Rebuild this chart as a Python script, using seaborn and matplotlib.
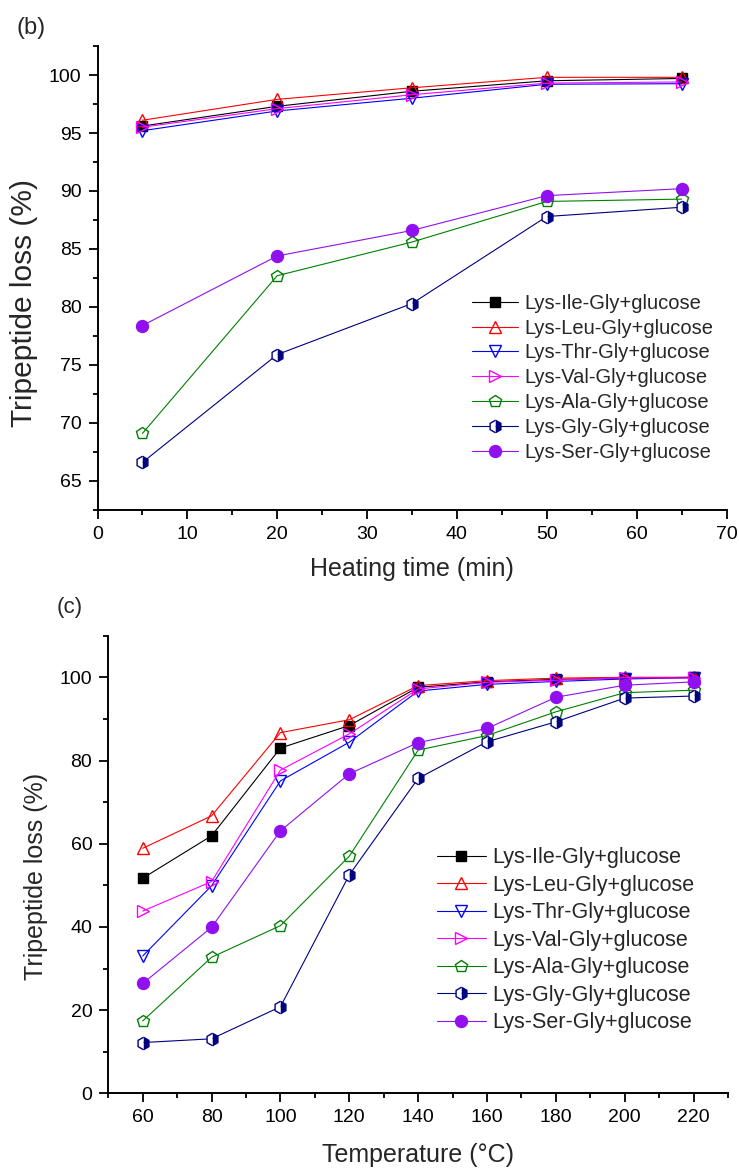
import numpy as np
import pandas as pd
import matplotlib
matplotlib.use("Agg")
import matplotlib.pyplot as plt
from matplotlib.ticker import MultipleLocator
import seaborn as sns

# ---- data -------------------------------------------------------------
series = [
    "Lys-Ile-Gly+glucose",
    "Lys-Leu-Gly+glucose",
    "Lys-Thr-Gly+glucose",
    "Lys-Val-Gly+glucose",
    "Lys-Ala-Gly+glucose",
    "Lys-Gly-Gly+glucose",
    "Lys-Ser-Gly+glucose",
]

# (b) loss vs heating time
time_min = [5, 20, 35, 50, 65]
b_ile = [95.6, 97.3, 98.6, 99.5, 99.7]
b_leu = [96.1, 97.9, 98.9, 99.8, 99.8]
b_thr = [95.2, 96.9, 98.0, 99.2, 99.25]
b_val = [95.5, 97.1, 98.3, 99.3, 99.4]
b_ala = [69.1, 82.7, 85.6, 89.1, 89.3]
b_gly = [66.6, 75.9, 80.3, 87.8, 88.6]
b_ser = [78.4, 84.4, 86.6, 89.6, 90.2]

# (c) loss vs temperature
temp_c = [60, 80, 100, 120, 140, 160, 180, 200, 220]
c_ile = [51.7, 61.9, 83.0, 88.4, 97.6, 98.9, 99.5, 99.8, 100.0]
c_leu = [58.9, 66.7, 86.7, 89.8, 98.0, 99.2, 99.8, 100.0, 100.0]
c_thr = [33.0, 49.9, 75.1, 84.4, 96.7, 98.3, 99.0, 99.6, 99.9]
c_val = [43.8, 50.9, 77.7, 86.4, 97.2, 98.8, 99.3, 99.9, 99.8]
c_ala = [17.4, 32.7, 40.3, 57.0, 82.5, 86.0, 91.7, 96.3, 96.9]
c_gly = [12.2, 13.1, 20.8, 52.5, 75.7, 84.5, 89.3, 95.0, 95.5]
c_ser = [26.4, 39.9, 63.1, 76.8, 84.3, 87.7, 95.2, 98.1, 98.9]

df_b = pd.DataFrame({
    "time": np.tile(time_min, len(series)),
    "loss": np.concatenate([b_ile, b_leu, b_thr, b_val, b_ala, b_gly, b_ser]),
    "sample": np.repeat(series, len(time_min)),
})
df_c = pd.DataFrame({
    "temp": np.tile(temp_c, len(series)),
    "loss": np.concatenate([c_ile, c_leu, c_thr, c_val, c_ala, c_gly, c_ser]),
    "sample": np.repeat(series, len(temp_c)),
})

# ---- styles -----------------------------------------------------------
sns.set_theme(style="ticks")
plt.rcParams["font.family"] = ["Liberation Sans", "DejaVu Sans"]
plt.rcParams["axes.linewidth"] = 1.4

styles = {
    "Lys-Ile-Gly+glucose": dict(color="#000000", marker="s", ms=7.2,
                                mfc="#000000", mec="#000000"),
    "Lys-Leu-Gly+glucose": dict(color="#FF0000", marker="^", ms=9,
                                mfc="none", mec="#FF0000"),
    "Lys-Thr-Gly+glucose": dict(color="#0000FF", marker="v", ms=9,
                                mfc="none", mec="#0000FF"),
    "Lys-Val-Gly+glucose": dict(color="#FF00FF", marker=">", ms=9,
                                mfc="none", mec="#FF00FF"),
    "Lys-Ala-Gly+glucose": dict(color="#008000", marker="p", ms=9,
                                mfc="none", mec="#008000"),
    "Lys-Gly-Gly+glucose": dict(color="#000080", marker="h", ms=9,
                                mfc="#000080", mec="#000080",
                                fillstyle="right", markerfacecoloralt="white"),
    "Lys-Ser-Gly+glucose": dict(color="#9010F0", marker="o", ms=8.6,
                                mfc="#9010F0", mec="#9010F0"),
}

W, H = 739, 1169
fig = plt.figure(figsize=(W / 100, H / 100), dpi=100)
fig.patch.set_facecolor("white")

ax_b = fig.add_axes([97.5 / W, 1 - 510 / H, 629 / W, 464 / H])
ax_c = fig.add_axes([108.3 / W, 1 - 1093.3 / H, 619.7 / W, 457.6 / H])


def draw(ax, df, xcol):
    for name in series:
        st = dict(styles[name])
        color = st.pop("color")
        sns.lineplot(data=df[df["sample"] == name], x=xcol, y="loss", ax=ax,
                     color=color, lw=0.8, label=name, mew=1.0, **st)


def style_axes(ax):
    ax.set_facecolor("white")
    for side in ("top", "right"):
        ax.spines[side].set_visible(False)
    for side in ("left", "bottom"):
        ax.spines[side].set_linewidth(1.4)
        ax.spines[side].set_color("black")
    ax.tick_params(which="major", direction="out", length=6.5, width=1.3,
                   labelsize=14, colors="black", pad=5)
    ax.tick_params(which="minor", direction="out", length=3.5, width=1.3,
                   colors="black")
    ax.grid(False)


# (b)
draw(ax_b, df_b, "time")
ax_b.set_xlim(0, 70)
ax_b.set_ylim(62.5, 102.5)
ax_b.xaxis.set_major_locator(MultipleLocator(10))
ax_b.xaxis.set_minor_locator(MultipleLocator(5))
ax_b.yaxis.set_major_locator(MultipleLocator(5))
ax_b.yaxis.set_minor_locator(MultipleLocator(2.5))
style_axes(ax_b)
ax_b.set_xlabel("Heating time (min)", fontsize=18, labelpad=10)
ax_b.set_ylabel("Tripeptide loss (%)", fontsize=21.5)
ax_b.yaxis.set_label_coords(-0.094, 0.446)
ax_b.legend(loc="upper left", bbox_to_anchor=(472 / W, 1 - 293.8 / H),
            bbox_transform=fig.transFigure, frameon=False, fontsize=14.5,
            borderpad=0, borderaxespad=0, labelspacing=0.29,
            handlelength=2.3, handletextpad=0.3)

# (c)
draw(ax_c, df_c, "temp")
ax_c.set_xlim(50, 230)
ax_c.set_ylim(0, 110)
ax_c.xaxis.set_major_locator(MultipleLocator(20))
ax_c.xaxis.set_minor_locator(MultipleLocator(10))
ax_c.yaxis.set_major_locator(MultipleLocator(20))
ax_c.yaxis.set_minor_locator(MultipleLocator(10))
style_axes(ax_c)
ax_c.set_xticks(temp_c)
ax_c.set_xlabel("Temperature (\u00b0C)", fontsize=18, labelpad=12)
ax_c.set_ylabel("Tripeptide loss (%)", fontsize=18)
ax_c.yaxis.set_label_coords(-0.097, 0.475)
ax_c.legend(loc="upper left", bbox_to_anchor=(436.7 / W, 1 - 847.5 / H),
            bbox_transform=fig.transFigure, frameon=False, fontsize=15.5,
            borderpad=0, borderaxespad=0, labelspacing=0.30,
            handlelength=2.3, handletextpad=0.3)

fig.text(17 / W, 1 - 17 / H, "(b)", fontsize=17, va="top", ha="left")
fig.text(57 / W, 1 - 597 / H, "(c)", fontsize=16, va="top", ha="left")

fig.savefig("out.png", dpi=100, facecolor="white")
